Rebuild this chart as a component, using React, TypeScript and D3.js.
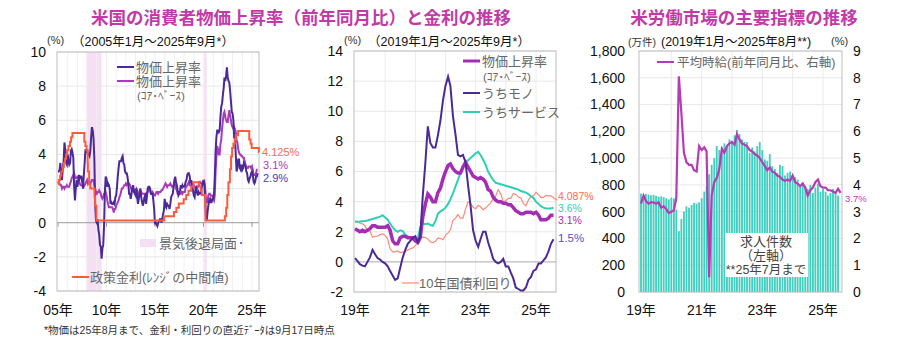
import React from "react";
import * as d3 from "d3";

// ---------- DATA ----------
// US CPI YoY (%), monthly 2005-01 .. 2025-08
const headlineCPI = [
  3.0, 3.0, 3.1, 3.5, 2.8, 2.5, 3.2, 3.6, 4.7, 4.3, 3.5, 3.4,
  4.0, 3.6, 3.4, 3.5, 4.2, 4.3, 4.1, 3.8, 2.1, 1.3, 2.0, 2.5,
  2.1, 2.4, 2.8, 2.6, 2.7, 2.7, 2.4, 2.0, 2.8, 3.5, 4.3, 4.1,
  4.3, 4.0, 4.0, 3.9, 4.2, 5.0, 5.6, 5.4, 4.9, 3.7, 1.1, 0.1,
  0.0, 0.2, -0.4, -0.7, -1.3, -1.4, -2.1, -1.5, -1.3, -0.2, 1.8, 2.7,
  2.6, 2.1, 2.3, 2.2, 2.0, 1.1, 1.2, 1.1, 1.1, 1.2, 1.1, 1.5,
  1.6, 2.1, 2.7, 3.2, 3.6, 3.6, 3.6, 3.8, 3.9, 3.5, 3.4, 3.0,
  2.9, 2.9, 2.7, 2.3, 1.7, 1.7, 1.4, 1.7, 2.0, 2.2, 1.8, 1.7,
  1.6, 2.0, 1.5, 1.1, 1.4, 1.8, 2.0, 1.5, 1.2, 1.0, 1.2, 1.5,
  1.6, 1.1, 1.5, 2.0, 2.1, 2.1, 2.0, 1.7, 1.7, 1.7, 1.3, 0.8,
  -0.1, 0.0, -0.1, -0.2, 0.0, 0.1, 0.2, 0.2, 0.0, 0.2, 0.5, 0.7,
  1.4, 1.0, 0.9, 1.1, 1.0, 1.0, 0.8, 1.1, 1.5, 1.6, 1.7, 2.1,
  2.5, 2.7, 2.4, 2.2, 1.9, 1.6, 1.7, 1.9, 2.2, 2.0, 2.2, 2.1,
  2.1, 2.2, 2.4, 2.5, 2.8, 2.9, 2.9, 2.7, 2.3, 2.5, 2.2, 1.9,
  1.6, 1.5, 1.9, 2.0, 1.8, 1.6, 1.8, 1.7, 1.7, 1.8, 2.1, 2.3,
  2.5, 2.3, 1.5, 0.3, 0.1, 0.6, 1.0, 1.3, 1.4, 1.2, 1.2, 1.4,
  1.4, 1.7, 2.6, 4.2, 5.0, 5.4, 5.4, 5.3, 5.4, 6.2, 6.8, 7.0,
  7.5, 7.9, 8.5, 8.3, 8.6, 9.1, 8.5, 8.3, 8.2, 7.7, 7.1, 6.5,
  6.4, 6.0, 5.0, 4.9, 4.0, 3.0, 3.2, 3.7, 3.7, 3.2, 3.1, 3.4,
  3.1, 3.2, 3.5, 3.4, 3.3, 3.0, 2.9, 2.5, 2.4, 2.6, 2.7, 2.9,
  3.0, 2.8, 2.4, 2.3, 2.4, 2.7, 2.7, 2.9,
];

const coreCPI = [
  2.3, 2.4, 2.3, 2.2, 2.2, 2.0, 2.1, 2.1, 2.0, 2.1, 2.1, 2.2,
  2.1, 2.1, 2.1, 2.3, 2.4, 2.6, 2.7, 2.8, 2.9, 2.7, 2.6, 2.6,
  2.7, 2.7, 2.5, 2.3, 2.2, 2.2, 2.2, 2.1, 2.1, 2.2, 2.3, 2.4,
  2.5, 2.3, 2.4, 2.3, 2.3, 2.4, 2.5, 2.5, 2.5, 2.2, 2.0, 1.8,
  1.7, 1.8, 1.8, 1.9, 1.8, 1.7, 1.5, 1.4, 1.5, 1.7, 1.7, 1.8,
  1.6, 1.3, 1.1, 0.9, 0.9, 0.9, 0.9, 0.9, 0.8, 0.6, 0.8, 0.8,
  1.0, 1.1, 1.2, 1.3, 1.5, 1.6, 1.8, 2.0, 2.0, 2.1, 2.2, 2.2,
  2.3, 2.2, 2.3, 2.3, 2.3, 2.2, 2.1, 1.9, 2.0, 2.0, 1.9, 1.9,
  1.9, 2.0, 1.9, 1.7, 1.7, 1.6, 1.7, 1.8, 1.7, 1.7, 1.7, 1.7,
  1.6, 1.6, 1.7, 1.8, 2.0, 1.9, 1.9, 1.7, 1.7, 1.8, 1.7, 1.6,
  1.6, 1.7, 1.8, 1.8, 1.7, 1.8, 1.8, 1.8, 1.9, 1.9, 2.0, 2.1,
  2.2, 2.3, 2.2, 2.1, 2.2, 2.2, 2.2, 2.3, 2.2, 2.1, 2.1, 2.2,
  2.3, 2.2, 2.0, 1.9, 1.7, 1.7, 1.7, 1.7, 1.7, 1.8, 1.7, 1.8,
  1.8, 1.8, 2.1, 2.1, 2.2, 2.3, 2.4, 2.2, 2.2, 2.1, 2.2, 2.2,
  2.2, 2.1, 2.0, 2.1, 2.0, 2.1, 2.2, 2.4, 2.4, 2.3, 2.3, 2.3,
  2.3, 2.4, 2.1, 1.4, 1.2, 1.2, 1.6, 1.7, 1.7, 1.6, 1.6, 1.6,
  1.4, 1.3, 1.6, 3.0, 3.8, 4.5, 4.3, 4.0, 4.0, 4.6, 4.9, 5.5,
  6.0, 6.4, 6.5, 6.2, 6.0, 5.9, 5.9, 6.3, 6.6, 6.3, 6.0, 5.7,
  5.6, 5.5, 5.6, 5.5, 5.3, 4.8, 4.7, 4.3, 4.1, 4.0, 4.0, 3.9,
  3.9, 3.8, 3.8, 3.6, 3.4, 3.3, 3.2, 3.2, 3.3, 3.3, 3.3, 3.2,
  3.3, 3.1, 2.8, 2.8, 2.8, 2.9, 3.1, 3.1,
];

// Fed funds target (midpoint of range), change dates
const policyDates = [
  "2005-01-01", "2005-02-02", "2005-03-22", "2005-05-03", "2005-06-30", "2005-08-09",
  "2005-09-20", "2005-11-01", "2005-12-13", "2006-01-31", "2006-03-28", "2006-05-10",
  "2006-06-29", "2007-09-18", "2007-10-31", "2007-12-11", "2008-01-22", "2008-01-30",
  "2008-03-18", "2008-04-30", "2008-10-08", "2008-10-29", "2008-12-16", "2015-12-17",
  "2016-12-15", "2017-03-16", "2017-06-15", "2017-12-14", "2018-03-22", "2018-06-14",
  "2018-09-27", "2018-12-20", "2019-08-01", "2019-09-19", "2019-10-31", "2020-03-04",
  "2020-03-16", "2022-03-17", "2022-05-05", "2022-06-16", "2022-07-28", "2022-09-22",
  "2022-11-03", "2022-12-15", "2023-02-02", "2023-03-23", "2023-05-04", "2023-07-27",
  "2024-09-19", "2024-11-08", "2024-12-19", "2025-09-17", "2025-09-20",
];
const policyRates = [
  2.25, 2.5, 2.75, 3.0, 3.25, 3.5,
  3.75, 4.0, 4.25, 4.5, 4.75, 5.0,
  5.25, 4.75, 4.5, 4.25, 3.5, 3.0,
  2.25, 2.0, 1.5, 1.0, 0.125, 0.375,
  0.625, 0.875, 1.125, 1.375, 1.625, 1.875,
  2.125, 2.375, 2.125, 1.875, 1.625, 1.125,
  0.125, 0.375, 0.875, 1.625, 2.375, 3.125,
  3.875, 4.375, 4.625, 4.875, 5.125, 5.375,
  4.875, 4.625, 4.375, 4.125, 4.125,
];

const recessionStarts = ["2007-12-01", "2020-02-01"];
const recessionEnds = ["2009-06-30", "2020-04-30"];

// Middle chart, monthly 2019-01 .. 2025-08
const coreGoods = [
  0.25, 0.05, -0.15, -0.25, -0.3, 0.0, 0.3, 0.8, 0.5, 0.25, 0.15, 0.0,
  -0.1, -0.3, -0.6, -0.9, -1.2, -1.1, -0.4, 0.3, 0.8, 1.2, 1.4, 1.6,
  1.7, 1.3, 1.7, 4.4, 6.5, 9.0, 7.9, 7.6, 7.6, 8.4, 9.4, 10.7,
  11.7, 12.3, 11.7, 9.7, 8.5, 7.1, 7.0, 7.1, 6.6, 5.1, 3.7, 2.1,
  1.4, 1.0, 1.5, 2.0, 2.0, 1.3, 0.8, 0.2, 0.0, -0.1, 0.0, 0.2,
  -0.3, -0.3, -0.7, -1.1, -1.7, -1.8, -1.9, -1.9, -1.7, -1.2, -1.0, -0.6,
  -0.5, -0.1, -0.1, 0.1, 0.3, 0.7, 1.2, 1.5,
];
const coreServices = [
  2.67, 2.67, 2.68, 2.7, 2.72, 2.75, 2.8, 2.85, 2.9, 2.95, 3.0, 3.1,
  2.95, 2.8, 2.55, 2.3, 2.1, 2.0, 2.1, 2.05, 1.8, 1.7, 1.6, 1.5,
  1.35, 1.6, 2.3, 2.55, 2.5, 2.55, 2.45, 2.4, 2.7, 3.2, 3.35, 3.45,
  3.6, 3.85, 4.15, 4.55, 5.0, 5.45, 5.9, 6.35, 6.6, 6.75, 6.9, 7.05,
  7.2, 7.3, 7.1, 6.8, 6.45, 6.0, 5.7, 5.45, 5.25, 5.2, 5.15, 5.1,
  5.05, 5.0, 4.95, 4.9, 4.85, 4.8, 4.7, 4.65, 4.6, 4.5, 4.35, 4.25,
  4.0, 3.85, 3.7, 3.6, 3.55, 3.55, 3.55, 3.6,
];
const tenYearYield = [
  2.71, 2.68, 2.57, 2.53, 2.40, 2.07, 2.06, 1.63, 1.70, 1.71, 1.81, 1.86,
  1.76, 1.50, 0.87, 0.66, 0.67, 0.73, 0.62, 0.65, 0.68, 0.79, 0.87, 0.93,
  1.08, 1.26, 1.61, 1.64, 1.62, 1.52, 1.32, 1.28, 1.37, 1.58, 1.56, 1.47,
  1.76, 1.93, 2.13, 2.75, 2.90, 3.14, 2.90, 2.90, 3.52, 3.98, 3.89, 3.62,
  3.53, 3.75, 3.66, 3.46, 3.57, 3.75, 3.90, 4.17, 4.38, 4.80, 4.50, 4.02,
  4.06, 4.21, 4.21, 4.54, 4.48, 4.31, 4.25, 3.87, 3.72, 4.10, 4.36, 4.39,
  4.63, 4.45, 4.28, 4.28, 4.42, 4.38, 4.39, 4.26, 4.087,
];

// Right chart: job openings (万件), 2019-01 .. 2025-07
const jobOpenings = [
  735, 725, 732, 728, 722, 726, 718, 712, 714, 708, 700, 692,
  705, 700, 615, 455, 545, 600, 640, 630, 650, 665, 660, 670,
  700, 750, 790, 880, 950, 1000, 1090, 1060, 1080, 1110, 1090, 1140,
  1130, 1170, 1210, 1180, 1140, 1120, 1120, 1040, 1080, 1050, 1090, 1120,
  1060, 990, 980, 1030, 940, 920, 890, 950, 940, 870, 890, 900,
  870, 860, 840, 800, 820, 790, 770, 800, 740, 780, 810, 750,
  770, 750, 720, 740, 770, 740, 720,
];
// Average hourly earnings YoY (%), 2019-01 .. 2025-08
const hourlyEarnings = [
  3.3, 3.6, 3.4, 3.3, 3.35, 3.35, 3.3, 3.35, 3.15, 3.2, 3.1, 2.95,
  3.0, 3.05, 3.5, 8.05, 6.7, 5.2, 4.85, 4.75, 4.75, 4.55, 4.5, 5.45,
  5.3, 5.4, 5.25, 0.55, 3.6, 4.1, 4.25, 4.6, 5.35, 5.2, 5.45, 5.55,
  5.6, 5.5, 5.9, 5.7, 5.55, 5.5, 5.45, 5.3, 5.25, 5.15, 5.1, 5.0,
  4.85, 4.7, 4.55, 4.65, 4.5, 4.45, 4.35, 4.3, 4.2, 4.15, 4.2, 4.15,
  4.35, 4.1, 4.05, 3.95, 4.05, 3.9, 3.6, 3.8, 3.9, 4.1, 4.2, 3.95,
  3.9, 3.9, 3.8, 3.8, 3.75, 3.7, 3.85, 3.7,
];

const leftTickYears = [2005, 2010, 2015, 2020, 2025];
const midTickYears = [2019, 2021, 2023, 2025];
const leftYTicks = [-4, -2, 0, 2, 4, 6, 8, 10];
const midYTicks = [-2, 0, 2, 4, 6, 8, 10, 12, 14];
const rightYTicksL = [0, 200, 400, 600, 800, 1000, 1200, 1400, 1600, 1800];
const rightYTicksR = [0, 1, 2, 3, 4, 5, 6, 7, 8, 9];

// ---------- STYLE ----------
const FONT = "'Liberation Sans', 'Noto Sans CJK JP', sans-serif";
const JP = "'Noto Sans CJK JP', sans-serif";
const C_TITLE = "#c23aa8";
const C_HEAD = "#4a2a98";
const C_CORE = "#a93bb8";
const C_POL = "#ff5a3c";
const C_TEAL = "#2fcfb5";
const C_10Y = "#ff8a76";
const C_BAR = "#3fcfbe";
const C_AHE = "#b53cb5";
const C_GRID = "#e8e8e8";
const C_FRAME = "#bdbdbd";
const C_LEG = "#666";

const parse = d3.timeParse("%Y-%m-%d");
const monthDate = (y0: number, i: number) => new Date(y0, i, 1);
const yy = (y: number) => `${String(y % 100).padStart(2, "0")}年`;

export default function App() {
  // ---- Left chart ----
  const L = { x0: 57, x1: 259, y0: 52, y1: 291 };
  const xL = d3.scaleTime().domain([new Date(2005, 0, 1), new Date(2025, 0, 1)]).range([58, 252]);
  const yL = d3.scaleLinear().domain([-4, 10]).range([L.y1, L.y0]);
  const lineL = d3.line<[Date, number]>().x((d) => xL(d[0])).y((d) => yL(d[1]));
  const headPts: [Date, number][] = headlineCPI.map((v, i) => [monthDate(2005, i), v]);
  const corePts: [Date, number][] = coreCPI.map((v, i) => [monthDate(2005, i), v]);
  const polPts: [Date, number][] = policyDates.map((d, i) => [parse(d) as Date, policyRates[i]]);
  const polLine = d3.line<[Date, number]>().x((d) => xL(d[0])).y((d) => yL(d[1])).curve(d3.curveStepAfter);
  const yearsL = d3.range(2006, 2026);

  // ---- Middle chart ----
  const M = { x0: 354, x1: 556, y0: 51, y1: 292 };
  const xM = d3.scaleTime().domain([new Date(2019, 0, 1), new Date(2025, 0, 1)]).range([355, 536]);
  const yM = d3.scaleLinear().domain([-2, 14]).range([M.y1, M.y0]);
  const lineM = d3.line<[Date, number]>().x((d) => xM(d[0])).y((d) => yM(d[1]));
  const coreMid: [Date, number][] = coreCPI.slice(14 * 12).map((v, i) => [monthDate(2019, i), v]);
  const goodsPts: [Date, number][] = coreGoods.map((v, i) => [monthDate(2019, i), v]);
  const servPts: [Date, number][] = coreServices.map((v, i) => [monthDate(2019, i), v]);
  const tenPts: [Date, number][] = tenYearYield.map((v, i) =>
    [i === tenYearYield.length - 1 ? new Date(2025, 8, 17) : monthDate(2019, i), v]);
  const yearsM = d3.range(2020, 2026);

  // ---- Right chart ----
  const R = { x0: 639, x1: 842, y0: 51, y1: 292 };
  const xR = d3.scaleTime().domain([new Date(2019, 0, 1), new Date(2025, 0, 1)]).range([641, 823]);
  const yRL = d3.scaleLinear().domain([0, 1800]).range([R.y1, R.y0]);
  const yRR = d3.scaleLinear().domain([0, 9]).range([R.y1, R.y0]);
  const monthW = xR(new Date(2019, 1, 1)) - xR(new Date(2019, 0, 1));
  const aheLine = d3.line<number>().x((_, i) => xR(monthDate(2019, i))).y((d) => yRR(d));
  const yearsR = d3.range(2020, 2026);

  const legendLine = (x: number, y: number, color: string, w = 2) => (
    <line x1={x} x2={x + 17} y1={y} y2={y} stroke={color} strokeWidth={w} />
  );

  return (
    <svg width={900} height={340} style={{ position: "absolute", left: 0, top: 0, background: "#fff" }}
      fontFamily={FONT}>
      <rect x={0} y={0} width={900} height={340} fill="#fff" />
      {/* Titles */}
      <text x={301} y={24} textAnchor="middle" fontFamily={JP} fontSize={17.5} fontWeight={700} fill={C_TITLE}>
        米国の消費者物価上昇率（前年同月比）と金利の推移
      </text>
      <text x={744} y={24} textAnchor="middle" fontFamily={JP} fontSize={17.5} fontWeight={700} fill={C_TITLE}>
        米労働市場の主要指標の推移
      </text>

      {/* ===== LEFT ===== */}
      <text x={47} y={44} fontSize={11} fill="#333">(%)</text>
      <text x={72} y={46} fontSize={12.5} fill="#111">（2005年1月～2025年9月*）</text>
      <rect x={L.x0} y={L.y0} width={L.x1 - L.x0} height={L.y1 - L.y0} fill="#fff" />
      {recessionStarts.map((s, i) => (
        <rect key={i} x={xL(parse(s) as Date)} y={L.y0}
          width={xL(parse(recessionEnds[i]) as Date) - xL(parse(s) as Date)} height={L.y1 - L.y0} fill="#f4e0f2" />
      ))}
      {yearsL.map((y) => (
        <line key={y} x1={xL(new Date(y, 0, 1))} x2={xL(new Date(y, 0, 1))} y1={L.y0} y2={L.y1} stroke="#f0f0f0" />
      ))}
      {leftYTicks.map((t) => (
        <g key={t}>
          {t !== 0 && <line x1={L.x0} x2={L.x1} y1={yL(t)} y2={yL(t)} stroke={C_GRID} />}
          <text x={46} y={yL(t)} dy="0.35em" textAnchor="end" fontSize={14} fill="#111">{t}</text>
        </g>
      ))}
      <line x1={L.x0} x2={L.x1} y1={yL(0)} y2={yL(0)} stroke="#999" />
      {leftTickYears.map((y) => (
        <g key={y}>
          <line x1={xL(new Date(y, 0, 1))} x2={xL(new Date(y, 0, 1))} y1={yL(0)} y2={yL(0) + 4} stroke="#999" />
          <text x={xL(new Date(y, 0, 1))} y={315} textAnchor="middle" fontSize={14} fill="#111">{yy(y)}</text>
        </g>
      ))}
      <rect x={L.x0} y={L.y0} width={L.x1 - L.x0} height={L.y1 - L.y0} fill="none" stroke={C_FRAME} />
      <path d={lineL(corePts) || ""} fill="none" stroke={C_CORE} strokeWidth={2} />
      <path d={lineL(headPts) || ""} fill="none" stroke={C_HEAD} strokeWidth={2} />
      <path d={polLine(polPts) || ""} fill="none" stroke={C_POL} strokeWidth={2} />
      {/* legends */}
      {legendLine(117, 67, C_HEAD)}
      <text x={136} y={71.5} fontSize={13} fill={C_LEG}>物価上昇率</text>
      {legendLine(117, 81, C_CORE)}
      <text x={136} y={85.5} fontSize={13} fill={C_LEG}>物価上昇率</text>
      <text x={137} y={100} fontSize={11.5} fill={C_LEG}>(ｺｱ･ﾍﾞｰｽ)</text>
      <rect x={140} y={239} width={16} height={8} fill="#f4e0f2" />
      <text x={159} y={248} fontSize={13} fill={C_LEG}>景気後退局面</text>
      <text x={236} y={247} fontSize={10} fill="#5a50c0">・</text>
      {legendLine(72, 277, C_POL)}
      <text x={90} y={281.5} fontSize={13} fill={C_LEG}>政策金利(ﾚﾝｼﾞの中間値)</text>
      <text x={262} y={156} fontSize={11} fill="#ff6a50">4.125%</text>
      <text x={263} y={169} fontSize={11} fill={C_CORE}>3.1%</text>
      <text x={263} y={182} fontSize={11} fill="#4040c0">2.9%</text>

      {/* ===== MIDDLE ===== */}
      <text x={344} y={44} fontSize={11} fill="#333">(%)</text>
      <text x={368} y={46} fontSize={12.5} fill="#111">（2019年1月～2025年9月*）</text>
      {yearsM.map((y) => (
        <line key={y} x1={xM(new Date(y, 0, 1))} x2={xM(new Date(y, 0, 1))} y1={M.y0} y2={M.y1} stroke="#ececec" />
      ))}
      {midYTicks.map((t) => (
        <g key={t}>
          {t !== 0 && <line x1={M.x0} x2={M.x1} y1={yM(t)} y2={yM(t)} stroke={C_GRID} />}
          <text x={343} y={yM(t)} dy="0.35em" textAnchor="end" fontSize={14} fill="#111">{t}</text>
        </g>
      ))}
      <line x1={M.x0} x2={M.x1} y1={yM(0)} y2={yM(0)} stroke="#aaa" />
      {midTickYears.map((y) => (
        <text key={y} x={xM(new Date(y, 0, 1))} y={315} textAnchor="middle" fontSize={14} fill="#111">{yy(y)}</text>
      ))}
      <rect x={M.x0} y={M.y0} width={M.x1 - M.x0} height={M.y1 - M.y0} fill="none" stroke={C_FRAME} />
      <path d={lineM(tenPts) || ""} fill="none" stroke={C_10Y} strokeWidth={1.2} />
      <path d={lineM(servPts) || ""} fill="none" stroke={C_TEAL} strokeWidth={2} />
      <path d={lineM(coreMid) || ""} fill="none" stroke="#a52db5" strokeWidth={3.5} />
      <path d={lineM(goodsPts) || ""} fill="none" stroke={C_HEAD} strokeWidth={2} />
      {legendLine(463, 61, "#a52db5", 3)}
      <text x={482} y={65.5} fontSize={13} fill={C_LEG}>物価上昇率</text>
      <text x={483} y={81} fontSize={11.5} fill={C_LEG}>(ｺｱ･ﾍﾞｰｽ)</text>
      {legendLine(463, 93, C_HEAD)}
      <text x={482} y={97.5} fontSize={13} fill={C_LEG}>うちモノ</text>
      {legendLine(463, 112, C_TEAL)}
      <text x={482} y={116.5} fontSize={13} fill={C_LEG}>うちサービス</text>
      {legendLine(402, 283, C_10Y, 1.2)}
      <text x={419} y={287.5} fontSize={13} fill={C_LEG}>10年国債利回り</text>
      <text x={558} y={199.5} fontSize={10.5} fill="#ff6a50">4.087%</text>
      <text x={558} y={211.5} fontSize={10.5} fill={C_TEAL}>3.6%</text>
      <text x={558} y={223.5} fontSize={10.5} fill="#a52db5">3.1%</text>
      <text x={558} y={242} fontSize={11.5} fill="#5a50c8">1.5%</text>

      {/* ===== RIGHT ===== */}
      <text x={628} y={46} fontSize={10.5} fill="#333">(万件)</text>
      <text x={661} y={46} fontSize={12.5} fill="#111">(2019年1月～2025年8月**)</text>
      <text x={831} y={45} fontSize={11} fill="#333">(%)</text>
      {yearsR.map((y) => (
        <line key={y} x1={xR(new Date(y, 0, 1))} x2={xR(new Date(y, 0, 1))} y1={R.y0} y2={R.y1} stroke="#ececec" />
      ))}
      {rightYTicksL.map((t) => (
        <g key={t}>
          <line x1={R.x0} x2={R.x1} y1={yRL(t)} y2={yRL(t)} stroke={C_GRID} />
          <text x={625} y={yRL(t)} dy="0.35em" textAnchor="end" fontSize={14} fill="#111">{d3.format(",")(t)}</text>
        </g>
      ))}
      {rightYTicksR.map((t) => (
        <text key={t} x={853} y={yRR(t)} dy="0.35em" fontSize={14} fill="#111">{t}</text>
      ))}
      {midTickYears.map((y) => (
        <text key={y} x={xR(new Date(y, 0, 1))} y={315} textAnchor="middle" fontSize={14} fill="#111">{yy(y)}</text>
      ))}
      {jobOpenings.map((v, i) => (
        <rect key={i} x={xR(monthDate(2019, i)) - 0.9} y={yRL(v)} width={monthW - 0.75}
          height={yRL(0) - yRL(v)} fill={C_BAR} />
      ))}
      <rect x={R.x0} y={R.y0} width={R.x1 - R.x0} height={R.y1 - R.y0} fill="none" stroke={C_FRAME} />
      <path d={aheLine(hourlyEarnings) || ""} fill="none" stroke={C_AHE} strokeWidth={2.2} />
      {legendLine(657, 62, C_AHE)}
      <text x={677} y={66.5} fontSize={12.5} fill={C_LEG}>平均時給(前年同月比、右軸)</text>
      <rect x={725} y={233} width={83} height={44} fill="#fff" />
      <text x={766} y={246} textAnchor="middle" fontSize={13} fill="#444">求人件数</text>
      <text x={766} y={260} textAnchor="middle" fontSize={13} fill="#444">（左軸）</text>
      <text x={766} y={274} textAnchor="middle" fontSize={12.5} fill="#444">**25年7月まで</text>
      <text x={845} y={201.5} fontSize={9.5} fill={C_AHE}>3.7%</text>

      {/* footnote */}
      <text x={44} y={334} fontSize={10.5} fill="#333">*物価は25年8月まで、金利・利回りの直近ﾃﾞｰﾀは9月17日時点</text>
    </svg>
  );
}
